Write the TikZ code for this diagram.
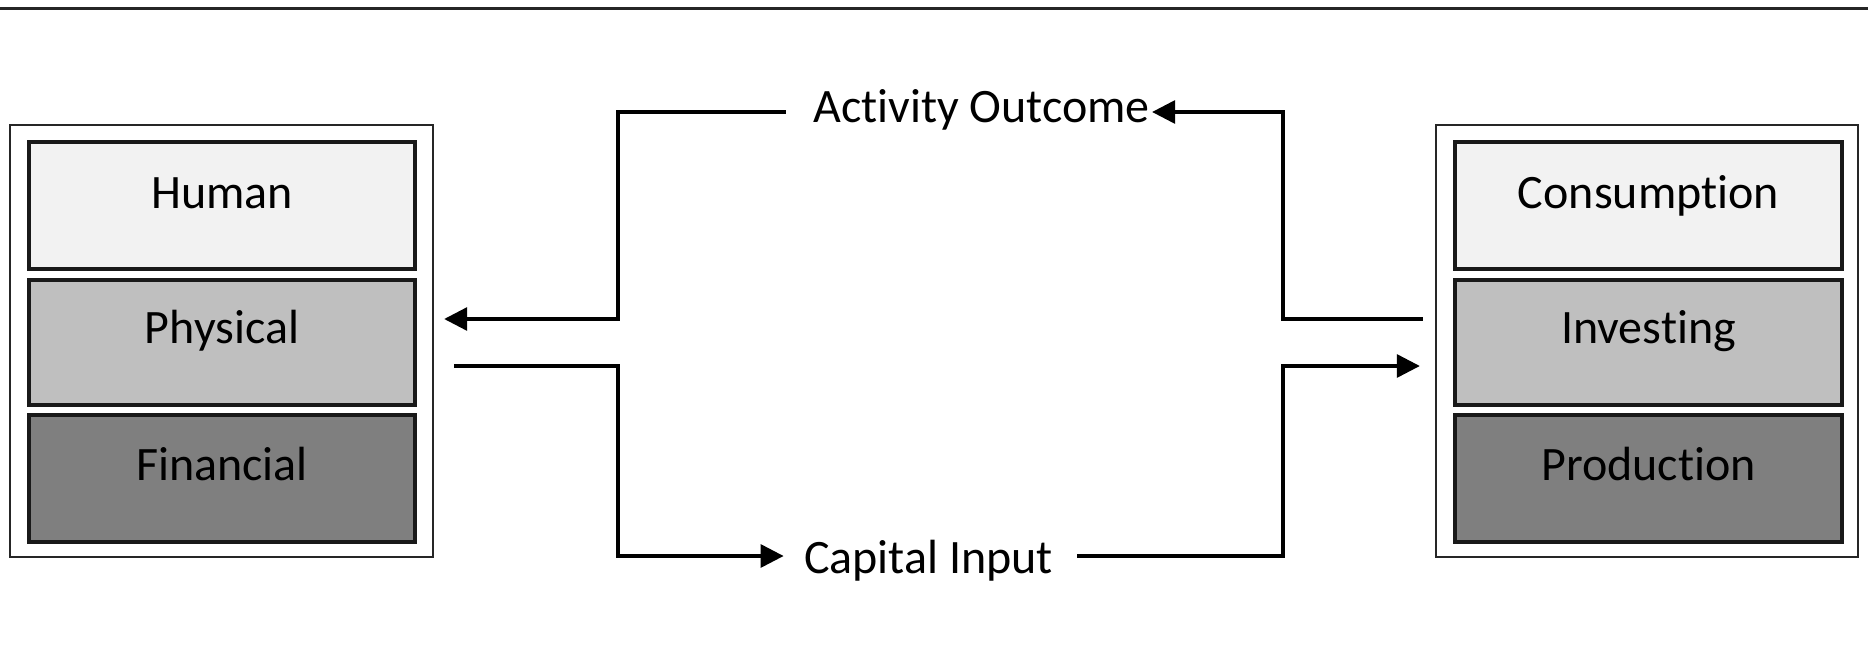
\documentclass[tikz,border=0pt]{standalone}
\usepackage{fontspec}
\setmainfont{Carlito}[Ligatures=NoCommon]
\usetikzlibrary{arrows.meta,fit}
\definecolor{lightfill}{HTML}{F2F2F2}
\definecolor{midfill}{HTML}{BFBFBF}
\definecolor{darkfill}{HTML}{7F7F7F}
\tikzset{
  outerbox/.style={draw=black!85, line width=1.2pt, inner sep=0pt, fill=white},
  innerbox/.style={draw=black!90, line width=1.6pt, inner sep=0pt},
  lbl/.style={inner sep=0pt, anchor=base, font=\fontsize{24}{28}\selectfont, text=black},
  conn/.style={draw=black, line width=1.6pt},
  arr/.style={conn, -{Triangle[length=11.5pt,width=11.5pt]}},
}
\begin{document}
\begin{tikzpicture}[x=0.5pt,y=-0.5pt]
\useasboundingbox (0,0) rectangle (1868,669);
% top rule
\draw[line width=1.5pt, black!85] (0,8) -- (1868,8);

% left stack
\node[outerbox, fit={(10,125) (433,557)}] (lout) {};
\node[innerbox, fill=lightfill, fit={(29,142) (415,269)}] (human) {};
\node[innerbox, fill=midfill, fit={(29,280) (415,405)}] (physical) {};
\node[innerbox, fill=darkfill, fit={(29,415) (415,542)}] (financial) {};
\node[lbl] (thuman) at (222,208) {Human};
\node[lbl] (tphysical) at (222,343) {Physical};
\node[lbl] (tfinancial) at (222,480) {Financial};

% right stack
\node[outerbox, fit={(1436,125) (1858,557)}] (rout) {};
\node[innerbox, fill=lightfill, fit={(1455,142) (1842,269)}] (consumption) {};
\node[innerbox, fill=midfill, fit={(1455,280) (1842,405)}] (investing) {};
\node[innerbox, fill=darkfill, fit={(1455,415) (1842,542)}] (production) {};
\node[lbl] (tconsumption) at (1648.5,208) {Consumption};
\node[lbl] (tinvesting) at (1648.5,343) {Investing};
\node[lbl] (tproduction) at (1648.5,480) {Production};

% labels
\node[lbl] (ao) at (981.5,122) {Activity Outcome};
\node[lbl] (ci) at (928.5,573) {Capital Input};

% helper coordinates
\coordinate (ytop) at (0,112);
\coordinate (ybot) at (0,556);
\coordinate (yup) at (0,319);
\coordinate (ylo) at (0,366);
\coordinate (xl) at (618,0);
\coordinate (xr) at (1283,0);

% Activity outcome loop
\draw[arr] ([xshift=-6pt]rout.west |- yup) -| (xr |- ytop) -- ([xshift=1pt]ao.east |- ytop);
\draw[arr] ([xshift=-13.5pt]ao.west |- ytop) -| (xl |- yup) -- ([xshift=5pt]lout.east |- yup);

% Capital input loop
\draw[arr] ([xshift=10pt]lout.east |- ylo) -| (xl |- ybot) -- ([xshift=-10pt]ci.west |- ybot);
\draw[arr] ([xshift=12pt]ci.east |- ybot) -| (xr |- ylo) -- ([xshift=-7.5pt]rout.west |- ylo);
\end{tikzpicture}
\end{document}
